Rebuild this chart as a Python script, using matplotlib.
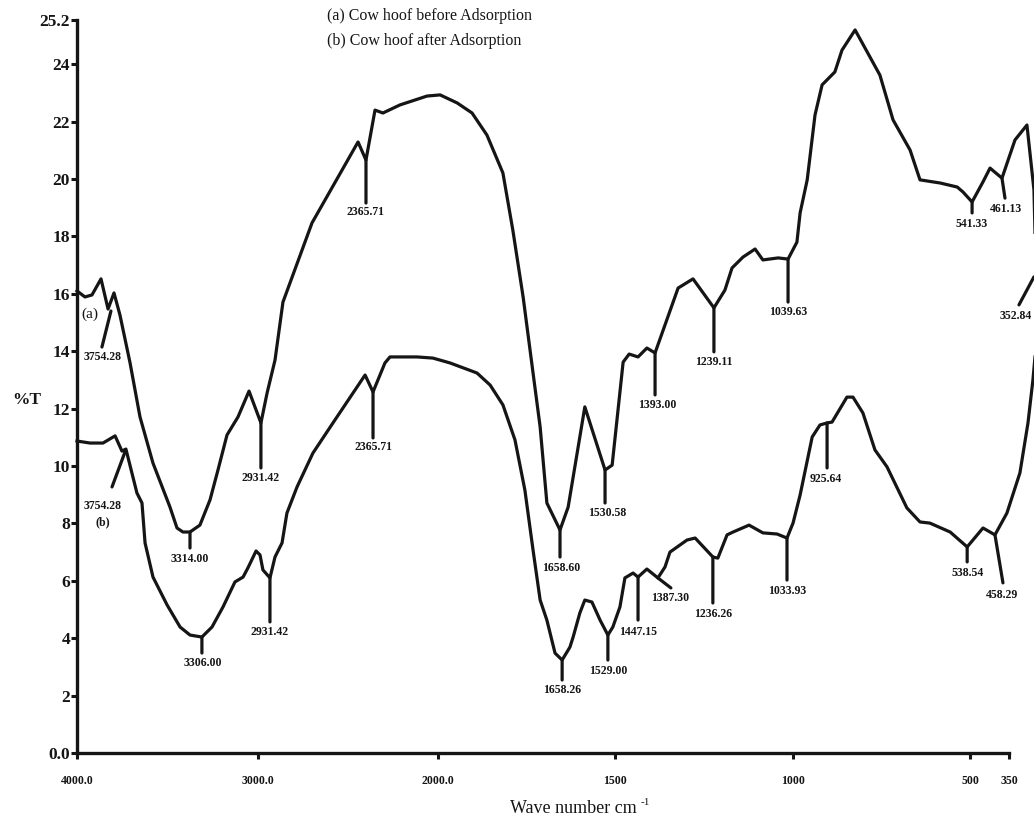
import numpy as np
import matplotlib
matplotlib.use("Agg")
import matplotlib.pyplot as plt

plt.rcParams["font.family"] = ["Liberation Serif", "DejaVu Serif"]

# (a) cow hoof before adsorption: wavenumber (cm-1) and %T
wn_a = [4000, 3956, 3917, 3867, 3828, 3795, 3762, 3706, 3651, 3579, 3485, 3446, 3413, 3374,
        3319, 3263, 3219, 3169, 3108, 3047, 2981, 2947, 2903, 2859, 2698, 2443, 2399, 2349,
        2305, 2211, 2061, 1994, 1946, 1904, 1862, 1817, 1789, 1760, 1732, 1712, 1693, 1656,
        1633, 1586, 1529, 1509, 1478, 1461, 1436, 1411, 1388, 1323, 1281, 1222, 1191, 1171,
        1140, 1106, 1084, 1041, 1013, 988, 979, 959, 937, 917, 881, 861, 824, 754, 717, 669,
        641, 584, 536, 520, 492, 450, 423, 377, 327, 281, 254, 246]
t_a = [16.10, 15.89, 15.96, 16.52, 15.47, 16.03, 15.26, 13.59, 11.71, 10.10, 8.57, 7.84, 7.70,
       7.70, 7.94, 8.82, 9.86, 11.08, 11.71, 12.61, 11.50, 12.54, 13.69, 15.71, 18.47, 21.29,
       20.66, 22.40, 22.30, 22.58, 22.89, 22.93, 22.65, 22.30, 21.53, 20.21, 18.22, 15.89,
       13.24, 11.36, 8.71, 7.77, 8.57, 12.06, 9.86, 10.03, 13.62, 13.90, 13.80, 14.11, 13.94,
       16.20, 16.52, 15.51, 16.13, 16.90, 17.28, 17.56, 17.18, 17.25, 17.21, 17.80, 18.82,
       19.97, 22.23, 23.28, 23.73, 24.38, 24.93, 23.62, 22.06, 21.01, 19.97, 19.86, 19.72,
       19.55, 19.20, 19.90, 20.38, 20.03, 21.36, 21.88, 19.62, 16.66]

# (b) cow hoof after adsorption
wn_b = [4000, 3928, 3856, 3789, 3751, 3729, 3668, 3640, 3623, 3579, 3501, 3429, 3374, 3308,
        3252, 3191, 3125, 3080, 3053, 3008, 2986, 2970, 2931, 2903, 2864, 2837, 2781, 2693,
        2582, 2404, 2360, 2294, 2266, 2116, 2028, 1966, 1890, 1853, 1817, 1783, 1755, 1732,
        1712, 1693, 1670, 1650, 1628, 1619, 1600, 1586, 1566, 1543, 1521, 1507, 1487, 1473,
        1450, 1436, 1411, 1380, 1360, 1346, 1298, 1275, 1225, 1211, 1185, 1168, 1123, 1084,
        1044, 1016, 999, 979, 945, 923, 903, 889, 847, 830, 802, 768, 734, 678, 641, 613, 556,
        508, 450, 404, 358, 308, 277, 258, 246]
t_b = [10.87, 10.80, 10.80, 11.05, 10.52, 10.59, 9.06, 8.71, 7.32, 6.13, 5.16, 4.39, 4.11, 4.04,
       4.39, 5.09, 5.96, 6.13, 6.45, 7.04, 6.90, 6.38, 6.10, 6.83, 7.32, 8.36, 9.27, 10.45,
       11.50, 13.17, 12.58, 13.59, 13.80, 13.80, 13.76, 13.59, 13.24, 12.82, 12.13, 10.91,
       9.16, 7.07, 5.33, 4.63, 3.48, 3.24, 3.69, 4.04, 4.88, 5.33, 5.26, 4.63, 4.11, 4.39,
       5.09, 6.10, 6.27, 6.13, 6.41, 6.10, 6.48, 7.00, 7.42, 7.49, 6.83, 6.79, 7.60, 7.70,
       7.94, 7.67, 7.63, 7.49, 8.01, 8.99, 11.01, 11.43, 11.50, 11.53, 12.40, 12.40, 11.85,
       10.56, 9.97, 8.54, 8.05, 8.01, 7.70, 7.18, 7.84, 7.60, 8.36, 9.76, 11.50, 13.00, 14.20]

# peak labels and the points on each curve they mark
peak_labels_a = ["3754.28", "3314.00", "2931.42", "2365.71", "1658.60", "1530.58", "1393.00",
                 "1239.11", "1039.63", "541.33", "461.13", "352.84"]
peak_wn_a = [3812, 3374, 2981, 2399, 1656, 1529, 1388, 1222, 1013, 492, 377, 254]
peak_t_a = [15.40, 7.70, 11.50, 20.66, 7.77, 9.86, 13.94, 15.51, 17.21, 19.20, 20.03, 16.59]

peak_labels_b = ["3754.28", "3306.00", "2931.42", "2365.71", "1658.26", "1529.00", "1447.15",
                 "1387.30", "1236.26", "1033.93", "925.64", "538.54", "458.29"]
peak_wn_b = [3734, 3308, 2931, 2360, 1650, 1521, 1436, 1380, 1225, 1016, 903, 508, 404]
peak_t_b = [10.49, 4.04, 6.10, 12.58, 3.24, 4.11, 6.13, 6.10, 6.83, 7.49, 11.50, 7.18, 7.60]

x_ticks = [4000, 3000, 2000, 1500, 1000, 500, 350]
x_tick_labels = ["4000.0", "3000.0", "2000.0", "1500", "1000", "500", "350"]
y_ticks = [0, 2, 4, 6, 8, 10, 12, 14, 16, 18, 20, 22, 24, 25.2]
y_tick_labels = ["0.0", "2", "4", "6", "8", "10", "12", "14", "16", "18", "20", "22", "24", "25.2"]

# leader line end and label centre, in pixels from the marked point
leader_a = [(-9, -36, -8, -46), (0, -16, 0, -27), (0, -45, 0, -55), (0, -43, 0, -52),
            (0, -27, 1, -38), (0, -33, 2, -43), (0, -42, 2, -52), (0, -44, 0, -54),
            (0, -43, 0, -53), (0, -11, 0, -22), (3, -20, 4, -31), (-15, -28, -18, -39)]
leader_b = [(-13, -35, -22, -54), (0, -16, 1, -26), (0, -44, 0, -54), (0, -46, 0, -55),
            (0, -20, 0, -30), (0, -25, 0, -36), (0, -43, 0, -55), (13, -10, 12, -20),
            (0, -46, 0, -57), (0, -42, 0, -53), (0, -45, -1, -56), (0, -15, 0, -26),
            (8, -48, 7, -60)]

# the wavenumber axis is stretched below 2000 cm-1, as on the instrument chart
xk_w = np.array([4000, 2000, 500, 350, 0])
xk_p = np.array([0, 361, 893, 932, 1023])


def x_fwd(w):
    return -np.interp(-np.asarray(w, float), -xk_w, xk_p)


def x_inv(q):
    return np.interp(-np.asarray(q, float), xk_p, xk_w)


yk_t = np.array([-100, 0, 24, 25.2, 100])
yk_p = np.array([-100, 0, 24, 25.54, 121.5])


def y_fwd(t):
    return np.interp(np.asarray(t, float), yk_t, yk_p)


def y_inv(p):
    return np.interp(np.asarray(p, float), yk_p, yk_t)


ink = "#151515"
fig = plt.figure(figsize=(10.34, 8.21), dpi=100)
ax = fig.add_axes([77 / 1034, 68 / 821, 932 / 1034, 733 / 821])
ax.set_xscale("function", functions=(x_fwd, x_inv))
ax.set_yscale("function", functions=(y_fwd, y_inv))
ax.set_xlim(4000, 350)
ax.set_ylim(0, 25.2)

ax.plot(wn_a, t_a, color=ink, lw=2.3, solid_joinstyle="round", clip_on=False)
ax.plot(wn_b, t_b, color=ink, lw=2.3, solid_joinstyle="round", clip_on=False)

for labels, wns, ts, leads in [(peak_labels_a, peak_wn_a, peak_t_a, leader_a),
                               (peak_labels_b, peak_wn_b, peak_t_b, leader_b)]:
    for lab, w, t, (dx, dy, tx, ty) in zip(labels, wns, ts, leads):
        ax.annotate("", xy=(w, t), xytext=(dx, dy), textcoords="offset pixels",
                    arrowprops=dict(arrowstyle="-", lw=2.3, color=ink, shrinkA=0, shrinkB=0),
                    annotation_clip=False)
        ax.annotate(lab, xy=(w, t), xytext=(tx, ty), textcoords="offset pixels",
                    ha="center", va="center", fontsize=8.5, fontweight="bold", color=ink,
                    annotation_clip=False)

ax.text(3928, 15.30, "(a)", fontsize=11, ha="center", va="center", color=ink)
ax.text(3856, 8.05, "(b)", fontsize=8.5, fontweight="bold", ha="center", va="center", color=ink)

for side in ["top", "right"]:
    ax.spines[side].set_visible(False)
for side in ["left", "bottom"]:
    ax.spines[side].set_linewidth(2.4)
    ax.spines[side].set_color(ink)

ax.set_xticks(x_ticks)
ax.set_xticklabels(x_tick_labels, fontsize=8.5, fontweight="bold")
ax.set_yticks(y_ticks)
ax.set_yticklabels(y_tick_labels, fontsize=12.5, fontweight="bold")
ax.minorticks_off()
ax.tick_params(axis="both", direction="out", length=4, width=2.2, color=ink, labelcolor=ink)
ax.tick_params(axis="x", pad=12)
ax.tick_params(axis="y", pad=1)

fig.text(27 / 1034, 1 - 400 / 821, "%T", fontsize=12.5, fontweight="bold",
         ha="center", va="center", color=ink)
fig.text(510 / 1034, 1 - 808 / 821, "Wave number cm", fontsize=13,
         ha="left", va="center", color=ink)
fig.text(641 / 1034, 1 - 802 / 821, "-1", fontsize=8, ha="left", va="center", color=ink)
fig.text(327 / 1034, 1 - 16 / 821, "(a) Cow hoof before Adsorption", fontsize=11.5,
         ha="left", va="center", color=ink)
fig.text(327 / 1034, 1 - 41 / 821, "(b) Cow hoof after Adsorption", fontsize=11.5,
         ha="left", va="center", color=ink)

fig.savefig("out.png", dpi=100)
